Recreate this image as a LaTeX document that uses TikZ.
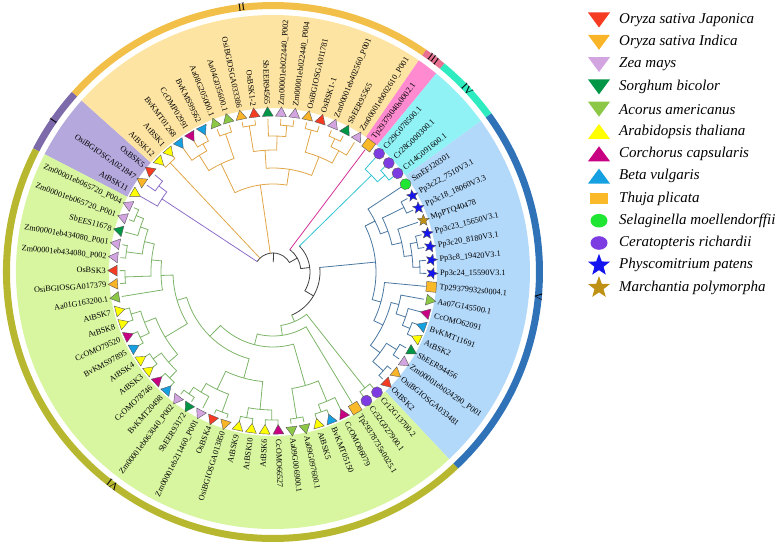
\documentclass[tikz,border=0pt]{standalone}
\usepackage{fontspec}
\setmainfont{Liberation Serif}
\usetikzlibrary{shapes.geometric}
% species
\definecolor{cjap}{RGB}{245,60,35}
\definecolor{cind}{RGB}{250,180,40}
\definecolor{czea}{RGB}{210,165,225}
\definecolor{csor}{RGB}{0,150,70}
\definecolor{caco}{RGB}{140,200,70}
\definecolor{cara}{RGB}{255,255,0}
\definecolor{ccor}{RGB}{200,0,130}
\definecolor{cbet}{RGB}{20,160,225}
\definecolor{cthu}{RGB}{250,185,40}
\definecolor{csel}{RGB}{30,230,50}
\definecolor{ccer}{RGB}{125,60,225}
\definecolor{cphy}{RGB}{20,20,240}
\definecolor{cmar}{RGB}{190,145,20}
% clades: sector, ring, branch
\definecolor{sI}{RGB}{180,168,220}
\definecolor{sII}{RGB}{253,228,162}
\definecolor{sIII}{RGB}{255,138,208}
\definecolor{sIV}{RGB}{145,242,246}
\definecolor{sV}{RGB}{178,216,250}
\definecolor{sVI}{RGB}{216,245,160}
\definecolor{rI}{RGB}{125,106,170}
\definecolor{rII}{RGB}{242,192,72}
\definecolor{rIII}{RGB}{232,112,145}
\definecolor{rIV}{RGB}{46,235,192}
\definecolor{rV}{RGB}{47,114,184}
\definecolor{rVI}{RGB}{184,184,48}
\definecolor{cbI}{RGB}{140,110,200}
\definecolor{cbII}{RGB}{225,165,70}
\definecolor{cbIII}{RGB}{210,50,150}
\definecolor{cbIV}{RGB}{50,195,210}
\definecolor{cbV}{RGB}{75,120,160}
\definecolor{cbVI}{RGB}{125,180,105}
% leaf index -> angle
\newcommand{\ang}[1]{(150.3-4.865*(#1))}
% clade: stem at t from r0 to r, arc at r from t1 to t2
\newcommand{\cl}[5]{\draw ({\ang{#1}}:#2pt) -- ({\ang{#1}}:#3pt)
  ({\ang{#4}}:#3pt) arc[start angle={\ang{#4}}, end angle={\ang{#5}}, radius=#3pt];}
\newcommand{\lfs}[2]{\foreach \t in {#2} {\draw ({\ang{\t}}:#1pt) -- ({\ang{\t}}:153pt);}}
\newcommand{\band}[5]{\fill[#1] ({\ang{#2}}:#4pt) arc[start angle={\ang{#2}}, end angle={\ang{#3}}, radius=#4pt]
  -- ({\ang{#3}}:#5pt) arc[start angle={\ang{#3}}, end angle={\ang{#2}}, radius=#5pt] -- cycle;}
\begin{document}
\begin{tikzpicture}[x=1pt, y=1pt,
  br/.style={line width=0.8pt, line cap=round},
  rootln/.style={br, color=black!75},
  bI/.style={br, color=cbI}, bII/.style={br, color=cbII}, bIII/.style={br, color=cbIII},
  bIV/.style={br, color=cbIV}, bV/.style={br, color=cbV}, bVI/.style={br, color=cbVI},
  mk/.style={inner sep=0pt, draw=black!65, line width=0.4pt},
  tri/.style={mk, regular polygon, regular polygon sides=3, minimum size=12.5pt},
  jap/.style={tri, fill=cjap}, ind/.style={tri, fill=cind}, zea/.style={tri, fill=czea},
  sor/.style={tri, fill=csor}, aco/.style={tri, fill=caco},
  ara/.style={tri, shape border rotate=180, fill=cara},
  cor/.style={tri, shape border rotate=180, fill=ccor},
  bet/.style={tri, shape border rotate=180, fill=cbet},
  thu/.style={mk, rectangle, minimum size=10pt, fill=cthu},
  sel/.style={mk, circle, minimum size=11pt, fill=csel},
  cer/.style={mk, circle, minimum size=11pt, fill=ccer},
  phy/.style={mk, star, star points=5, star point ratio=2.3, minimum size=12pt, fill=cphy},
  mar/.style={mk, star, star points=5, star point ratio=2.3, minimum size=12pt, fill=cmar},
  lbl/.style={inner sep=0pt, font=\fontsize{8.2}{9}\selectfont},
  ringtxt/.style={inner sep=0pt, font=\fontsize{11}{12}\selectfont},
  legtxt/.style={anchor=west, inner sep=0pt, font=\fontsize{15}{17}\selectfont\itshape}]
\useasboundingbox (-273,-274) rectangle (505,272);

% sectors
\band{sI}{-0.5}{2.5}{164}{257}
\band{sII}{2.5}{19.5}{164}{257}
\band{sIII}{19.5}{20.5}{164}{257}
\band{sIV}{20.5}{23.5}{164}{257}
\band{sV}{23.5}{40.5}{164}{257}
\band{sVI}{40.5}{73.5}{164}{257}
% outer ring
\band{rI}{-0.5}{2.5}{263}{270}
\band{rII}{2.5}{19.5}{263}{270}
\band{rIII}{19.5}{20.5}{263}{270}
\band{rIV}{20.5}{23.5}{263}{270}
\band{rV}{23.5}{40.5}{263}{270}
\band{rVI}{40.5}{73.5}{263}{270}
\foreach \t/\rn in {1/I, 11/II, 20/III, 22/IV, 32/V, 57/VI} {
  \pgfmathsetmacro\angl{150.3-4.865*\t}
  \node[ringtxt, rotate=\angl-90] (ring\rn) at (\angl:266.5pt) {\rn};
}

% root
\begin{scope}[rootln]
  \draw ({\ang{12.74}}:10pt) -- ({\ang{12.74}}:19pt);
  \draw ({\ang{0.75}}:19pt) arc[start angle={\ang{0.75}}, end angle={\ang{24.73}}, radius=19pt];
  \cl{24.73}{19}{28}{20}{29.46}
  \cl{29.46}{28}{37}{21.75}{37.17}
  \cl{37.17}{37}{47}{29.76}{44.58}
\end{scope}
% I
\begin{scope}[bI]
  \cl{0.75}{19}{133}{0}{1.5} \lfs{133}{0}
  \cl{1.5}{133}{143}{1}{2} \lfs{143}{1,2}
\end{scope}
% II
\begin{scope}[bII]
  \cl{3.5}{19}{150}{3}{4} \lfs{150}{3,4}
  \cl{10.69}{19}{88}{7.125}{14.25}
  \cl{7.125}{88}{120}{5.75}{8.5}
  \cl{5.75}{120}{138}{5}{6.5} \lfs{138}{5}
  \cl{6.5}{138}{146}{6}{7} \lfs{146}{6,7}
  \cl{8.5}{120}{146}{8}{9} \lfs{146}{8,9}
  \cl{14.25}{88}{104}{11.625}{16.875}
  \cl{11.625}{104}{122}{10.5}{12.75}
  \cl{10.5}{122}{148}{10}{11} \lfs{148}{10,11}
  \cl{12.75}{122}{136}{12}{13.5} \lfs{136}{12}
  \cl{13.5}{136}{147}{13}{14} \lfs{147}{13,14}
  \cl{16.875}{104}{124}{15.5}{18.25}
  \cl{15.5}{124}{147}{15}{16} \lfs{147}{15,16}
  \cl{18.25}{124}{138}{17.5}{19} \lfs{138}{19}
  \cl{17.5}{138}{147}{17}{18} \lfs{147}{17,18}
\end{scope}
% III
\begin{scope}[bIII]
  \lfs{28}{20}
\end{scope}
% IV
\begin{scope}[bIV]
  \cl{21.75}{37}{138}{21}{22.5} \lfs{138}{21}
  \cl{22.5}{138}{148}{22}{23} \lfs{148}{22,23}
\end{scope}
% V
\begin{scope}[bV]
  \cl{29.76}{47}{103}{25.44}{34.09}
  \cl{25.44}{103}{114}{24}{26.875} \lfs{114}{24}
  \cl{26.875}{114}{122}{25.5}{28.25}
  \cl{25.5}{122}{146}{25}{26} \lfs{146}{25,26}
  \cl{28.25}{122}{132}{27}{29.5} \lfs{132}{27}
  \cl{29.5}{132}{140}{28.5}{30.5}
  \cl{28.5}{140}{147}{28}{29} \cl{30.5}{140}{147}{30}{31} \lfs{147}{28,...,31}
  \cl{34.09}{103}{112}{32}{36.19} \lfs{112}{32}
  \cl{36.19}{112}{122}{33.875}{38.5}
  \cl{33.875}{122}{130}{33}{34.75} \lfs{130}{33}
  \cl{34.75}{130}{140}{34}{35.5} \lfs{140}{34}
  \cl{35.5}{140}{148}{35}{36} \lfs{148}{35,36}
  \cl{38.5}{122}{134}{37.5}{39.5}
  \cl{37.5}{134}{146}{37}{38} \lfs{146}{37,38}
  \cl{39.5}{134}{148}{39}{40} \lfs{148}{39,40}
\end{scope}
% VI
\begin{scope}[bVI]
  \cl{44.58}{47}{54}{41.5}{47.67}
  \cl{41.5}{54}{148}{41}{42} \lfs{148}{41,42}
  \cl{47.67}{54}{64}{43}{52.33} \lfs{64}{43}
  \cl{52.33}{64}{75}{46.125}{58.54}
  \cl{46.125}{75}{118}{44.75}{47.5}
  \cl{44.75}{118}{140}{44}{45.5} \lfs{140}{44}
  \cl{45.5}{140}{148}{45}{46} \lfs{148}{45,46}
  \cl{47.5}{118}{148}{47}{48} \lfs{148}{47,48}
  \cl{58.54}{75}{90}{52.56}{64.52}
  \cl{52.56}{90}{110}{50.5}{54.625}
  \cl{50.5}{110}{138}{49.5}{51.5}
  \cl{49.5}{138}{148}{49}{50} \cl{51.5}{138}{148}{51}{52} \lfs{148}{49,...,52}
  \cl{54.625}{110}{130}{53.5}{55.75}
  \cl{53.5}{130}{149}{53}{54} \lfs{149}{53,54}
  \cl{55.75}{130}{140}{55}{56.5} \lfs{140}{55}
  \cl{56.5}{140}{148}{56}{57} \lfs{148}{56,57}
  \cl{64.52}{90}{100}{61.5}{67.53}
  \cl{61.5}{100}{126}{59.5}{63.5}
  \cl{59.5}{126}{138}{58.5}{60.5}
  \cl{58.5}{138}{148}{58}{59} \cl{60.5}{138}{148}{60}{61}
  \cl{63.5}{126}{138}{62.5}{64.5}
  \cl{62.5}{138}{148}{62}{63} \cl{64.5}{138}{148}{64}{65}
  \lfs{148}{58,...,65}
  \cl{67.53}{100}{112}{66}{69.06} \lfs{112}{66}
  \cl{69.06}{112}{122}{67.5}{70.625}
  \cl{67.5}{122}{148}{67}{68} \lfs{148}{67,68}
  \cl{70.625}{122}{132}{69.5}{71.75}
  \cl{69.5}{132}{148}{69}{70} \lfs{148}{69,70}
  \cl{71.75}{132}{140}{71}{72.5} \lfs{140}{71}
  \cl{72.5}{140}{148}{72}{73} \lfs{148}{72,73}
\end{scope}

% leaves: marker and label
\foreach \idx/\nm/\spc in {0/AtBSK11/ara, 1/OsiBGIOSGA021847/ind, 2/OsBSK5/jap,
  3/AtBSK12/ara, 4/AtBSK1/ara, 5/BvKMT01268/bet, 6/CcOMP02991/cor, 7/BvKMS99562/bet,
  8/Aa08G205000.1/aco, 9/Aa04G035600.1/aco, 10/OsiBGIOSGA033386/ind, 11/OsBSK1-2/jap,
  12/SbEER94565/sor, 13/Zm00001eb022440\_P002/zea, 14/Zm00001eb022440\_P004/zea,
  15/OsiBGIOSGA011781/ind, 16/OsBSK1-1/jap, 17/Zm00001eb402560\_P001/zea,
  18/SbEER95565/sor, 19/Zm00001eb002610\_P001/zea, 20/Tp29379040s0002.1/thu,
  21/Cr29G078500.1/cer, 22/Cr28G000300.1/cer, 23/Cr14G091600.1/cer,
  24/SmEFJ20301/sel, 25/Pp3c22\_7510V3.1/phy, 26/Pp3c18\_18060V3.3/phy,
  27/MpPTQ40478/mar, 28/Pp3c23\_15650V3.1/phy, 29/Pp3c20\_8180V3.1/phy,
  30/Pp3c8\_19420V3.1/phy, 31/Pp3c24\_15590V3.1/phy, 32/Tp29379932s0004.1/thu,
  33/Aa07G145500.1/aco, 34/CcOMO62091/cor, 35/BvKMT11691/bet, 36/AtBSK2/ara,
  37/SbEER94456/sor, 38/Zm00001eb024290\_P001/zea, 39/OsiBGIOSGA033481/ind,
  40/OsBSK2/jap, 41/Cr12G13700.2/cer, 42/Cr32G027900.1/cer,
  43/Tp29378735s0025.1/thu, 44/CcOMO86079/cor, 45/BvKMT05150/bet, 46/AtBSK5/ara,
  47/Aa09G097600.1/aco, 48/Aa09G006900.1/aco, 49/CcOMO66527/cor, 50/AtBSK6/ara,
  51/AtBSK10/ara, 52/AtBSK9/ara, 53/OsiBGIOSGA013850/ind, 54/OsBSK4/jap,
  55/Zm00001eb211460\_P001/zea, 56/SbEER93172/sor, 57/Zm00001eb063040\_P002/zea,
  58/BvKMT20498/bet, 59/CcOMO78746/cor, 60/AtBSK3/ara, 61/AtBSK4/ara,
  62/BvKMS97895/bet, 63/CcOMO79520/cor, 64/AtBSK8/ara, 65/AtBSK7/ara,
  66/Aa01G163200.1/aco, 67/OsiBGIOSGA017379/ind, 68/OsBSK3/jap,
  69/Zm00001eb434080\_P002/zea, 70/Zm00001eb434080\_P001/zea, 71/SbEES11678/sor,
  72/Zm00001eb065720\_P001/zea, 73/Zm00001eb065720\_P004/zea} {
  \pgfmathsetmacro\angl{150.3-4.865*\idx}
  \pgfmathsetmacro\cosa{cos(\angl)}
  \node[\spc, rotate=\angl-90] (m\idx) at (\angl:159pt) {};
  \ifdim \cosa pt < 0pt
    \node[lbl, anchor=east, rotate=\angl+180] (l\idx) at (\angl:167pt) {\nm};
  \else
    \node[lbl, anchor=west, rotate=\angl] (l\idx) at (\angl:167pt) {\nm};
  \fi
}

% legend
\foreach \row/\cc in {1/cjap, 2/cind, 3/czea, 4/csor, 5/caco} {
  \begin{scope}[shift={(326,{252-22.3*(\row-1)})}]
    \fill[\cc] (-11,7.5) -- (11,7.5) -- (0,-7.5) -- cycle;
  \end{scope}
}
\foreach \row/\cc in {6/cara, 7/ccor, 8/cbet} {
  \begin{scope}[shift={(326,{252-22.3*(\row-1)})}]
    \fill[\cc] (-11,-7.5) -- (11,-7.5) -- (0,7.5) -- cycle;
  \end{scope}
}
\fill[cthu] (317,{252-22.3*8-5.5}) rectangle (335,{252-22.3*8+5.5});
\fill[csel] (326,{252-22.3*9}) ellipse [x radius=8.5pt, y radius=6.8pt];
\fill[ccer] (326,{252-22.3*10}) ellipse [x radius=8.5pt, y radius=6.8pt];
\node[star, star points=5, star point ratio=2.4, minimum size=23pt, inner sep=0pt, fill=cphy] (kphy) at (326,{252-22.3*11}) {};
\node[star, star points=5, star point ratio=2.4, minimum size=23pt, inner sep=0pt, fill=cmar] (kmar) at (326,{252-22.3*12}) {};
\foreach \row/\nm/\txt in {1/jap/Oryza sativa Japonica, 2/ind/Oryza sativa Indica,
  3/zea/Zea mays, 4/sor/Sorghum bicolor, 5/aco/Acorus americanus,
  6/ara/Arabidopsis thaliana, 7/cor/Corchorus capsularis, 8/bet/Beta vulgaris,
  9/thu/Thuja plicata, 10/sel/Selaginella moellendorffii, 11/cer/Ceratopteris richardii,
  12/phy/Physcomitrium patens, 13/mar/Marchantia polymorpha} {
  \node[legtxt] (t\nm) at (346,{252-22.3*(\row-1)}) {\txt};
}
\end{tikzpicture}
\end{document}
